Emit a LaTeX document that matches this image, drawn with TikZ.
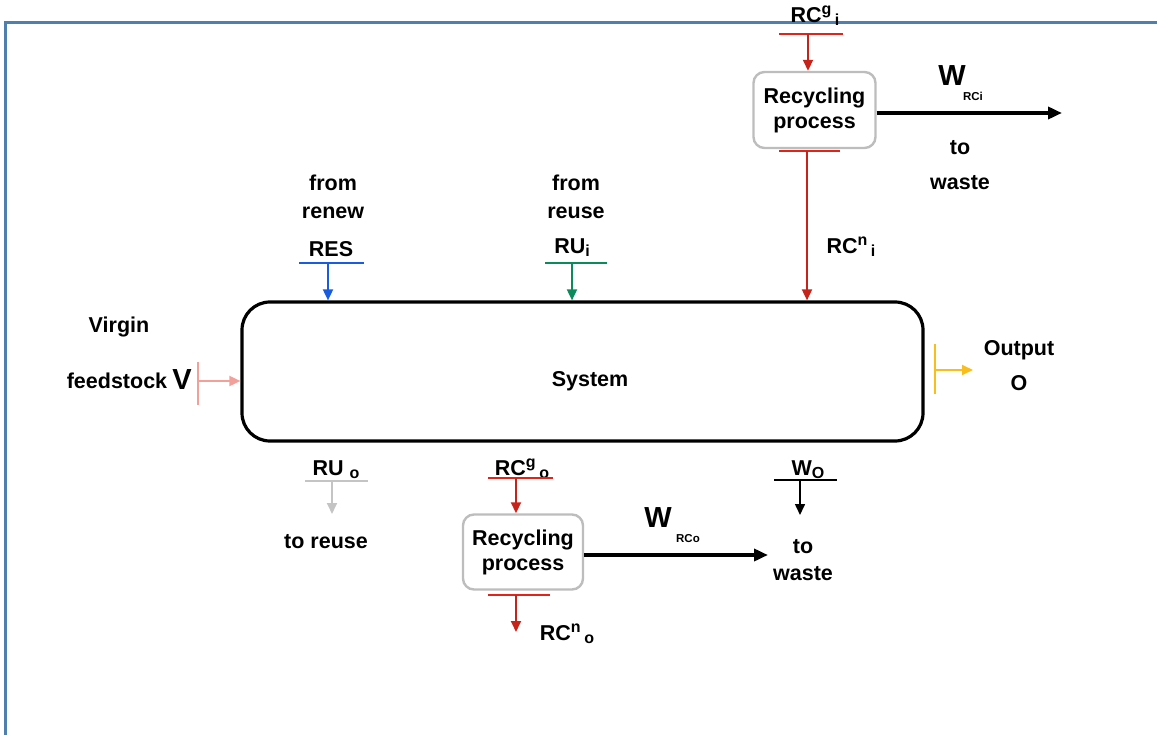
\documentclass[tikz,border=0pt]{standalone}
\usepackage{fontspec}
\setmainfont{Liberation Sans}
\usetikzlibrary{arrows.meta}
\definecolor{framec}{HTML}{4F7FAF}
\definecolor{redbar}{HTML}{E2231A}
\definecolor{redarr}{HTML}{C8231B}
\definecolor{bluec}{HTML}{1A5CE0}
\definecolor{greenc}{HTML}{0B8A5E}
\definecolor{grayc}{HTML}{C4C4C4}
\definecolor{salmonc}{HTML}{F4A09A}
\definecolor{yellowc}{HTML}{F9BE1C}
\definecolor{boxgray}{HTML}{BDBDBD}
\newcommand{\sbig}{\fontsize{21.5}{25}\selectfont\bfseries}
\newcommand{\ssub}[1]{\raisebox{-3pt}{\fontsize{16}{16}\selectfont\bfseries #1}}
\newcommand{\ssup}[1]{\raisebox{8pt}{\fontsize{16}{16}\selectfont\bfseries #1}}
\begin{document}
\begin{tikzpicture}[x=1pt,y=-1pt,
  lbl/.style={font=\sbig, inner sep=0pt, anchor=center, align=center},
  bar/.style={line width=2.8pt},
  flow/.style={line width=1.8pt, -{Triangle[length=11pt,width=10pt]}},
  waste/.style={line width=4pt, -{Triangle[length=14pt,width=12pt]}},
  recbox/.style={draw=boxgray, line width=2.4pt, rounded corners=11pt, fill=white,
    minimum width=122pt, minimum height=76pt, align=center, font=\sbig, inner sep=0pt},
  sysbox/.style={draw=black, line width=3.2pt, rounded corners=28pt,
    minimum width=681pt, minimum height=139pt}]
\useasboundingbox (0,0) rectangle (1157,735);
% frame
\draw[framec, line width=3pt] (5,736) -- (5,23) -- (1158,23);

% system
\node[sysbox] (sys) at (582.5,371.5) {};
\node[lbl] (syslab) at (590,381) {System};

% virgin feedstock
\node[lbl] (virgin) at (119,327) {Virgin};
\node[lbl] (feed) at (117,381) {feedstock};
\node[lbl, font=\fontsize{29}{29}\selectfont\bfseries] (vlab) at (182,380) {V};
\coordinate (vt) at (198,362); \coordinate (vb) at (198,405);
\coordinate (vs) at (198,381);
\draw[bar, salmonc] (vt) -- (vb);
\draw[flow, salmonc] (vs) -- (sys.west |- vs);

% output
\coordinate (ot) at (935,344); \coordinate (ob) at (935,394);
\coordinate (os) at (935,370); \coordinate (oe) at (973,370);
\draw[bar, yellowc] (ot) -- (ob);
\draw[flow, yellowc] (os) -- (oe);
\node[lbl] (outl) at (1019,350) {Output};
\node[lbl] (ol) at (1019,383) {O};

% RES
\node[lbl] (f1) at (333,183) {from};
\node[lbl] (r1) at (333,213) {renew};
\node[lbl] (res) at (331,249) {RES};
\coordinate (rl) at (299,263); \coordinate (rr) at (364,263); \coordinate (rs) at (328,263);
\draw[bar, bluec] (rl) -- (rr);
\draw[flow, bluec] (rs) -- (sys.north -| rs);

% RUi
\node[lbl] (f2) at (576,183) {from};
\node[lbl] (r2) at (576,213) {reuse};
\node[lbl] (rui) at (572,248) {RU\ssub{i}};
\coordinate (ul) at (545,263); \coordinate (ur) at (607,263); \coordinate (us) at (572,263);
\draw[bar, greenc] (ul) -- (ur);
\draw[flow, greenc] (us) -- (sys.north -| us);

% top recycling
\node[lbl] (rcgi) at (815,16) {RC\ssup{g}\,\ssub{i}};
\coordinate (tl) at (779,34); \coordinate (tr) at (843,34); \coordinate (ts) at (808,34);
\draw[bar, redbar] (tl) -- (tr);
\node[recbox] (rec1) at (814.5,110) {Recycling\\[0pt]process};
\draw[flow, redarr] (ts) -- (rec1.north -| ts);
\coordinate (bl) at (779,151); \coordinate (br) at (840,151); \coordinate (bs) at (807,151);
\draw[bar, redbar] (bl) -- (br);
\draw[flow, redarr] (bs) -- (sys.north -| bs);
\node[lbl] (rcni) at (851,247) {RC\ssup{n}\,\ssub{i}};
\coordinate (w1e) at (1062,113);
\draw[waste] (rec1.east |- w1e) -- (w1e);
\node[lbl, font=\fontsize{29}{29}\selectfont\bfseries] (w1) at (952,76) {W};
\node[lbl, font=\fontsize{11.5}{11.5}\selectfont\bfseries] (w1s) at (973,96) {RCi};
\node[lbl] (to1) at (960,148) {to};
\node[lbl] (wa1) at (960,183) {waste};

% RU o
\node[lbl] (ruo) at (336,470) {RU \ssub{o}};
\coordinate (gl) at (305,481); \coordinate (gr) at (368,481); \coordinate (gs) at (332,481);
\coordinate (ge) at (332,514);
\draw[bar, grayc] (gl) -- (gr);
\draw[flow, grayc] (gs) -- (ge);
\node[lbl] (tor) at (326,542) {to reuse};

% bottom recycling
\node[lbl] (rcgo) at (522,469) {RC\ssup{g}\,\ssub{o}};
\coordinate (cl) at (488,478); \coordinate (cr) at (553,478); \coordinate (cs) at (516,478);
\draw[bar, redbar, line width=2pt] (cl) -- (cr);
\node[recbox, minimum width=120pt, minimum height=75pt] (rec2) at (523,552) {Recycling\\[0pt]process};
\draw[flow, redarr] (cs) -- (rec2.north -| cs);
\coordinate (dl) at (488,595); \coordinate (dr) at (550,595); \coordinate (ds) at (516,595);
\coordinate (de) at (516,632);
\draw[bar, redbar, line width=2pt] (dl) -- (dr);
\draw[flow, redarr] (ds) -- (de);
\node[lbl] (rcno) at (567,634) {RC\ssup{n}\,\ssub{o}};
\coordinate (w2e) at (768,555);
\draw[waste] (rec2.east |- w2e) -- (w2e);
\node[lbl, font=\fontsize{29}{29}\selectfont\bfseries] (w2) at (658,518) {W};
\node[lbl, font=\fontsize{11.5}{11.5}\selectfont\bfseries] (w2s) at (688,539) {RCo};
\node[lbl] (to2) at (803,547) {to};
\node[lbl] (wa2) at (803,574) {waste};

% W_O
\node[lbl] (wo) at (808,470) {W\ssub{O}};
\coordinate (kl) at (774,480); \coordinate (kr) at (837,480); \coordinate (ks) at (800,480);
\coordinate (ke) at (800,515);
\draw[line width=1.6pt] (kl) -- (kr);
\draw[flow, line width=1.6pt] (ks) -- (ke);
\end{tikzpicture}
\end{document}
